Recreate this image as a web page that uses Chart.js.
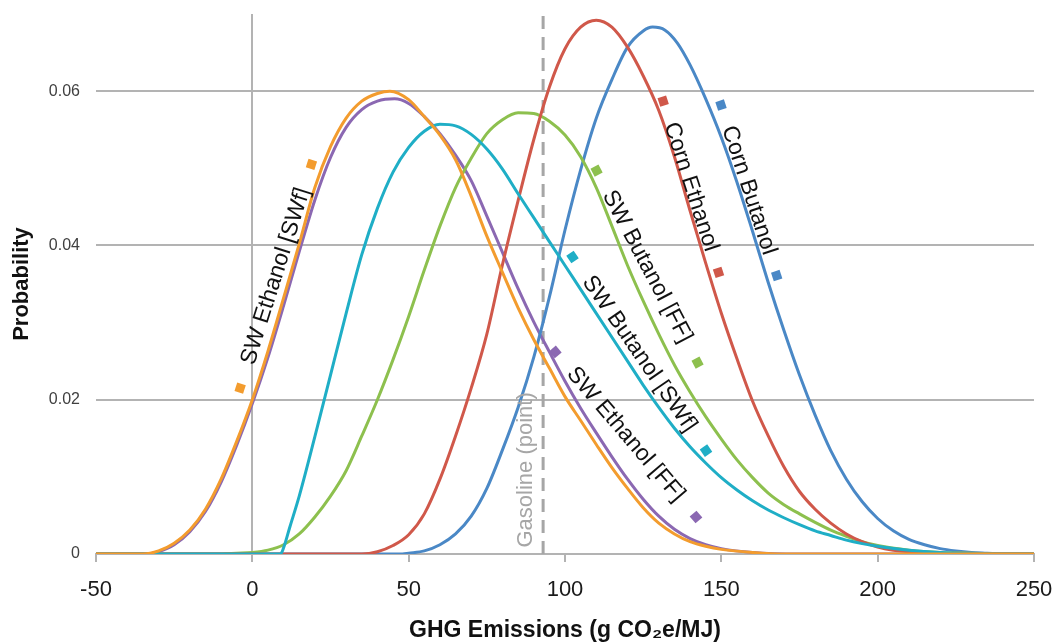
<!DOCTYPE html>
<html>
<head>
<meta charset="utf-8">
<title>GHG emissions probability</title>
<script src="https://cdn.jsdelivr.net/npm/chart.js@4.4.1/dist/chart.umd.min.js"></script>
<style>
	html, body { margin: 0; padding: 0; background: #fff; }
	#wrap { width: 1056px; height: 644px; position: relative; }
</style>
</head>
<body>
<div id="wrap"><canvas id="chart-0"></canvas></div>
<script>
'use strict';

// x ticks every 50 from -50 to 250, y ticks every 0.02
var X_TICKS = [-50, 0, 50, 100, 150, 200, 250];
var Y_TICKS = [0, 0.02, 0.04, 0.06];
var Y_MAX = 0.07;
var GASOLINE = [[93, 0], [93, Y_MAX]];

// [GHG emissions, probability]
var swEthanolSWf = [
	[-50, 0], [-35, 0], [-30, 0.0004], [-25, 0.0014], [-20, 0.0031], [-15, 0.0058],
	[-10, 0.0097], [-5, 0.0146], [0, 0.02], [5, 0.0263], [10, 0.0332], [15, 0.0402],
	[20, 0.0475], [25, 0.0528], [30, 0.0565], [35, 0.0587], [40, 0.0597], [44, 0.06],
	[50, 0.0589], [55, 0.0567], [60, 0.0543], [65, 0.0511], [70, 0.0464], [75, 0.0412],
	[80, 0.0365], [85, 0.0319], [90, 0.0278], [95, 0.0241], [100, 0.0204], [105, 0.0173],
	[110, 0.0142], [115, 0.0112], [120, 0.0085], [125, 0.006], [130, 0.004], [135, 0.0026],
	[140, 0.0016], [145, 0.001], [150, 0.0006], [160, 0.0002], [170, 0], [250, 0]
];
var swButanolSWf = [
	[-50, 0], [9, 0], [10, 0.0008], [12, 0.0035], [15, 0.0075], [20, 0.0152],
	[25, 0.0232], [30, 0.0312], [35, 0.0388], [40, 0.0448], [45, 0.0495], [50, 0.0527],
	[55, 0.0548], [60, 0.0557], [65, 0.0555], [70, 0.0544], [75, 0.0525], [80, 0.0499],
	[85, 0.0467], [90, 0.0436], [95, 0.0405], [100, 0.0374], [105, 0.0343], [110, 0.0312],
	[115, 0.0281], [120, 0.025], [125, 0.0219], [130, 0.019], [135, 0.0163], [140, 0.0139],
	[145, 0.0118], [150, 0.0099], [155, 0.0083], [160, 0.0069], [165, 0.0057], [170, 0.0047],
	[175, 0.0038], [180, 0.003], [185, 0.0024], [190, 0.0018], [200, 0.001], [210, 0.0005],
	[220, 0.0002], [235, 0], [250, 0]
];
var cornEthanol = [
	[-50, 0], [35, 0], [40, 0.0003], [45, 0.0011], [50, 0.0025], [55, 0.0052],
	[60, 0.0097], [65, 0.0153], [70, 0.0215], [75, 0.0285], [80, 0.0375], [85, 0.0458],
	[90, 0.0537], [95, 0.0605], [100, 0.0655], [105, 0.0683], [110, 0.0692], [115, 0.0683],
	[120, 0.0657], [125, 0.062], [130, 0.0575], [135, 0.0515], [140, 0.0445], [145, 0.0377],
	[150, 0.0312], [155, 0.0253], [160, 0.0198], [165, 0.0153], [170, 0.0113], [175, 0.0081],
	[180, 0.0058], [185, 0.004], [190, 0.0026], [195, 0.0016], [200, 0.0009], [205, 0.0005],
	[210, 0.0003], [215, 0.0001], [225, 0], [250, 0]
];
var swButanolFF = [
	[-50, 0], [-10, 0], [-5, 0.0001], [0, 0.0002], [5, 0.0005], [10, 0.0012],
	[15, 0.0026], [20, 0.0048], [25, 0.0075], [30, 0.0108], [35, 0.0153], [40, 0.02],
	[45, 0.0252], [50, 0.0308], [55, 0.0368], [60, 0.0425], [65, 0.0475], [70, 0.0513],
	[75, 0.0545], [80, 0.0563], [85, 0.0572], [90, 0.0571], [95, 0.0561], [100, 0.0543],
	[105, 0.0515], [110, 0.0475], [115, 0.0425], [120, 0.0374], [125, 0.0328], [130, 0.0285],
	[135, 0.0245], [140, 0.021], [145, 0.0178], [150, 0.0149], [155, 0.0122], [160, 0.0099],
	[165, 0.0079], [170, 0.0064], [175, 0.0052], [180, 0.0041], [185, 0.0031], [190, 0.0023],
	[195, 0.0016], [200, 0.0011], [210, 0.0005], [220, 0.0002], [230, 0.0001], [240, 0],
	[250, 0]
];
var cornButanol = [
	[-50, 0], [48, 0], [50, 0.0001], [55, 0.0004], [60, 0.0012], [65, 0.0026],
	[70, 0.0049], [75, 0.0085], [80, 0.0135], [85, 0.019], [90, 0.0255], [95, 0.0333],
	[100, 0.042], [105, 0.0498], [110, 0.0565], [115, 0.0615], [120, 0.0657], [125, 0.0678],
	[128, 0.0683], [132, 0.0679], [136, 0.0662], [140, 0.0634], [145, 0.059], [150, 0.054],
	[155, 0.0482], [160, 0.0418], [165, 0.0352], [170, 0.029], [175, 0.0232], [180, 0.018],
	[185, 0.0134], [190, 0.0097], [195, 0.0068], [200, 0.0046], [205, 0.003], [210, 0.0019],
	[215, 0.0012], [220, 0.0007], [225, 0.0004], [230, 0.0002], [235, 0.0001], [240, 0],
	[250, 0]
];
var swEthanolFF = [
	[-50, 0], [-34, 0], [-30, 0.0003], [-25, 0.0012], [-20, 0.0029], [-15, 0.0055],
	[-10, 0.0093], [-5, 0.0141], [0, 0.0195], [5, 0.0255], [10, 0.0322], [15, 0.0392],
	[20, 0.0459], [25, 0.0514], [30, 0.0553], [35, 0.0576], [40, 0.0587], [45.5, 0.059],
	[50, 0.0584], [55, 0.0567], [60, 0.0545], [65, 0.0517], [70, 0.0484], [75, 0.0438],
	[80, 0.0391], [85, 0.0344], [90, 0.0301], [95, 0.0262], [100, 0.0224], [105, 0.0189],
	[110, 0.0157], [115, 0.0126], [120, 0.0097], [125, 0.0071], [130, 0.0049], [135, 0.0032],
	[140, 0.002], [145, 0.0012], [150, 0.0007], [160, 0.0002], [175, 0], [250, 0]
];

var COLORS = {
	orange: '#F39C2E',
	purple: '#8B68B2',
	cyan: '#1FAEC6',
	green: '#8DC04E',
	red: '#D0584A',
	blue: '#4A88C6',
	grid: '#b3b3b3',
	gasoline: '#a6a6a6'
};

var FONT = '"Liberation Sans", Arial, sans-serif';

// label ends (marker positions) in data units
var curveLabels = [
	{text: 'SW Ethanol [SWf]', color: COLORS.orange, from: [-3.9, 0.0215], to: [18.9, 0.0505]},
	{text: 'SW Ethanol [FF]', color: COLORS.purple, from: [96.9, 0.0262], to: [141.9, 0.0048]},
	{text: 'SW Butanol [SWf]', color: COLORS.cyan, from: [102.4, 0.0385], to: [145.1, 0.0134]},
	{text: 'SW Butanol [FF]', color: COLORS.green, from: [110.1, 0.0497], to: [142.4, 0.0248]},
	{text: 'Corn Ethanol', color: COLORS.red, from: [131.4, 0.0587], to: [149.1, 0.0365]},
	{text: 'Corn Butanol', color: COLORS.blue, from: [149.9, 0.0582], to: [167.7, 0.0361]}
];
var gasolineLabel = {text: 'Gasoline (point)', at: [87.6, 0.0109]};

function toPoints(pairs) {
	return pairs.map(function(p) {
		return {x: p[0], y: p[1]};
	});
}

function curve(data, color) {
	return {
		data: toPoints(data),
		borderColor: color,
		backgroundColor: color,
		borderWidth: 3,
		pointRadius: 0,
		cubicInterpolationMode: 'monotone',
		fill: false
	};
}

var labelPlugin = {
	id: 'curveLabels',
	afterDatasetsDraw: function(chart) {
		var ctx = chart.ctx;
		var xs = chart.scales.x;
		var ys = chart.scales.y;

		ctx.save();
		ctx.font = '23px ' + FONT;
		ctx.textAlign = 'center';
		ctx.textBaseline = 'middle';

		curveLabels.forEach(function(l) {
			var x1 = xs.getPixelForValue(l.from[0]);
			var y1 = ys.getPixelForValue(l.from[1]);
			var x2 = xs.getPixelForValue(l.to[0]);
			var y2 = ys.getPixelForValue(l.to[1]);
			var angle = Math.atan2(y2 - y1, x2 - x1);

			ctx.save();
			ctx.translate((x1 + x2) / 2, (y1 + y2) / 2);
			ctx.rotate(angle);
			ctx.fillStyle = '#111';
			ctx.fillText(l.text, 0, 0);
			ctx.restore();

			[[x1, y1], [x2, y2]].forEach(function(p) {
				ctx.save();
				ctx.translate(p[0], p[1]);
				ctx.rotate(angle);
				ctx.fillStyle = l.color;
				ctx.fillRect(-4.5, -4.5, 9, 9);
				ctx.restore();
			});
		});

		ctx.save();
		ctx.font = '22px ' + FONT;
		ctx.translate(xs.getPixelForValue(gasolineLabel.at[0]), ys.getPixelForValue(gasolineLabel.at[1]));
		ctx.rotate(-Math.PI / 2);
		ctx.fillStyle = COLORS.gasoline;
		ctx.fillText(gasolineLabel.text, 0, 0);
		ctx.restore();

		ctx.restore();
	}
};

var datasets = [
	curve(swEthanolSWf, COLORS.orange),
	curve(swButanolSWf, COLORS.cyan),
	curve(cornEthanol, COLORS.red),
	curve(swButanolFF, COLORS.green),
	curve(cornButanol, COLORS.blue),
	curve(swEthanolFF, COLORS.purple),
	{
		data: toPoints(GASOLINE),
		borderColor: COLORS.gasoline,
		borderWidth: 3,
		borderDash: [13, 8],
		pointRadius: 0,
		fill: false
	}
];

new Chart('chart-0', {
	type: 'line',
	data: {datasets: datasets},
	plugins: [labelPlugin],
	options: {
		responsive: true,
		maintainAspectRatio: false,
		animation: false,
		layout: {padding: {left: 0, right: 22, top: 14, bottom: 0}},
		plugins: {legend: {display: false}, tooltip: {enabled: false}},
		scales: {
			x: {
				type: 'linear',
				min: X_TICKS[0],
				max: X_TICKS[X_TICKS.length - 1],
				afterFit: function(scale) {
					scale.height = 90;
					scale.paddingLeft = 0;
					scale.paddingRight = 0;
				},
				afterBuildTicks: function(scale) {
					scale.ticks = X_TICKS.map(function(v) { return {value: v}; });
				},
				ticks: {
					font: {family: FONT, size: 22},
					color: '#1a1a1a',
					padding: 15,
					maxRotation: 0
				},
				grid: {
					color: function(c) {
						return c.tick && c.tick.value === 0 ? COLORS.grid : 'rgba(0,0,0,0)';
					},
					tickColor: COLORS.grid,
					lineWidth: 2,
					tickLength: 8
				},
				border: {display: true, color: COLORS.grid, width: 2},
				title: {
					display: true,
					text: 'GHG Emissions (g CO₂e/MJ)',
					font: {family: FONT, size: 23, weight: 'bold'},
					color: '#111',
					padding: {top: 0, bottom: 0}
				}
			},
			y: {
				min: 0,
				max: Y_MAX,
				afterFit: function(scale) {
					scale.width = 96;
					scale.paddingTop = 0;
					scale.paddingBottom = 0;
				},
				afterBuildTicks: function(scale) {
					scale.ticks = Y_TICKS.map(function(v) { return {value: v}; });
				},
				ticks: {
					font: {family: FONT, size: 16},
					color: '#404040',
					padding: 16,
					callback: function(v) { return v === 0 ? '0' : v.toFixed(2); }
				},
				grid: {color: COLORS.grid, lineWidth: 2, drawTicks: false},
				border: {display: false},
				title: {
					display: true,
					text: 'Probability',
					font: {family: FONT, size: 22, weight: 'bold'},
					color: '#111',
					padding: {top: 9, bottom: 0}
				}
			}
		}
	}
});
</script>
</body>
</html>
